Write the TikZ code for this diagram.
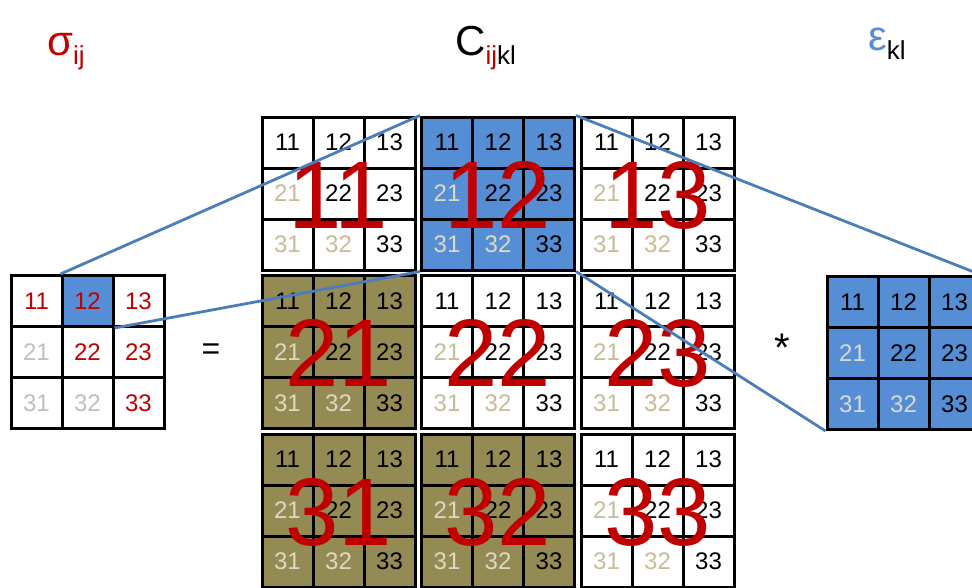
\documentclass[tikz,border=0pt]{standalone}
\usepackage{fontspec}
\setmainfont{Liberation Sans}
\definecolor{cBlue}{HTML}{558ED5}
\definecolor{cOlive}{HTML}{948A54}
\definecolor{cLink}{HTML}{4A7EBB}
\definecolor{cRed}{HTML}{C00000}
\definecolor{cTan}{HTML}{C4BD97}
\definecolor{cLightTan}{HTML}{DDD9C3}
\definecolor{cGrey}{HTML}{BFBFBF}
\definecolor{cLightGrey}{HTML}{D9D9D9}
\definecolor{cEps}{HTML}{558ED5}
\tikzset{
  cell/.style={rectangle, draw=black, line width=3pt, minimum width=51pt, minimum height=51pt, inner sep=0pt, font=\fontsize{24}{24}\selectfont},
  bignum/.style={text=cRed, font=\fontsize{96}{96}\selectfont, anchor=base, inner sep=0pt},
  link/.style={draw=cLink, line width=2.8pt},
  title/.style={anchor=base west, inner sep=0pt},
}
% name, x0, y0, fill, main text colour, lower text colour
\newcommand\mtxgrid[6]{%
  \foreach \r in {1,2,3} {%
    \foreach \c in {1,2,3} {%
      \ifnum\r>\c\relax\def\tcol{#6}\else\def\tcol{#5}\fi
      \node[cell, fill=#4, text=\tcol] (#1-\r\c) at ({#2+25.5+51*(\c-1)},{#3+25.5+51*(\r-1)}) {\r\c};
    }%
  }%
}
\begin{document}
\begin{tikzpicture}[x=1pt,y=-1pt]
\clip (0,0) rectangle (972,587);
\fill[white] (0,0) rectangle (972,587);

% titles
\node[title] (tsig) at (47,55) {\color{cRed}{\fontsize{42}{42}\selectfont σ}\raisebox{-9pt}{\fontsize{26}{26}\selectfont ij}};
\node[title] (tC) at (455,55) {{\fontsize{42}{42}\selectfont C}\raisebox{-9pt}{\fontsize{26}{26}\selectfont\color{cRed}ij\color{black}kl}};
\node[title] (teps) at (868,50) {{\fontsize{42}{42}\selectfont\color{cEps}ε}\raisebox{-9pt}{\fontsize{26}{26}\selectfont kl}};

% sigma
\mtxgrid{sig}{11}{275.5}{white}{cRed}{cGrey}
\node[cell, fill=cBlue, text=cRed] (sig-12) at (87.5,301) {12};

% stiffness blocks
\mtxgrid{b11}{262}{117}{white}{black}{cTan}
\mtxgrid{b12}{421.5}{117}{cBlue}{black}{cLightTan}
\mtxgrid{b13}{581}{117}{white}{black}{cTan}
\mtxgrid{b21}{262}{275.5}{cOlive}{black}{cLightTan}
\mtxgrid{b22}{421.5}{275.5}{white}{black}{cTan}
\mtxgrid{b23}{581}{275.5}{white}{black}{cTan}
\mtxgrid{b31}{262}{434}{cOlive}{black}{cLightTan}
\mtxgrid{b32}{421.5}{434}{cOlive}{black}{cLightTan}
\mtxgrid{b33}{581}{434}{white}{black}{cTan}

% epsilon
\mtxgrid{eps}{827}{276.5}{cBlue}{black}{cLightGrey}

% operators
\node[font=\fontsize{32}{32}\selectfont, inner sep=0pt] (eq) at (211,352) {=};
\node[font=\fontsize{40}{40}\selectfont, inner sep=0pt] (star) at (782,348) {*};

% big labels
\foreach \i/\yy in {1/117,2/275.5,3/434} {
  \foreach \j/\xx in {1/262,2/421.5,3/581} {
    \node[bignum] (big\i\j) at ({\xx+76.5},{\yy+76.5+34.5}) {\i\j};
  }
}

% connectors
\draw[link] (sig-12.north west) -- (b12-11.north west);
\draw[link] (sig-12.south east) -- (b12-31.south west);
\draw[link] (b12-13.north east) -- (eps-13.north east);
\draw[link] (b12-33.south east) -- (eps-31.south west);
\end{tikzpicture}
\end{document}
